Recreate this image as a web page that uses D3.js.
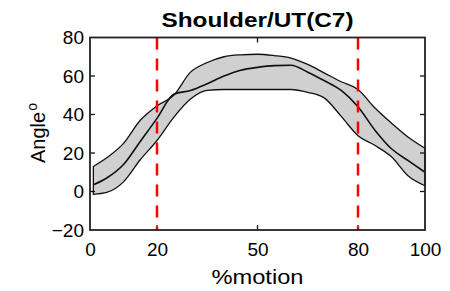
<!DOCTYPE html>
<html>
<head>
<meta charset="utf-8">
<script src="https://cdn.jsdelivr.net/npm/d3@7"></script>
<style>
  body { margin: 0; background: #fff; }
  text { font-family: Arial, "Liberation Sans", sans-serif; fill: #000; }
</style>
</head>
<body>
<svg id="chart" width="450" height="291"></svg>
<script>
// % of motion where each value was read
var pct   = [1, 5, 10, 15, 20, 25, 30, 35, 40, 45, 50, 55, 60, 65, 70, 75, 80, 85, 90, 95, 100];
var upper = [13, 17.5, 25, 37, 44.5, 50, 62, 67, 70, 71, 71.3, 70.6, 69.3, 66, 61.5, 57, 53, 43.5, 35.5, 28.2, 22.5];
var mean  = [3.5, 7, 14, 26, 38, 50.5, 52.5, 56, 60, 63, 64.5, 65.4, 65.6, 62, 57.5, 52.5, 44, 32, 22.2, 16, 10];
var lower = [-1.5, -0.5, 5, 16.5, 26.5, 38.5, 48, 52.5, 53, 53, 53, 53, 53, 51.5, 48.5, 39, 29, 24, 18, 8, 3];

var xTicks = [0, 20, 50, 80, 100];
var yTicks = [-20, 0, 20, 40, 60, 80];
var markers = [20, 80];

var svg = d3.select("#chart");
// plot box (window.top is reserved, so different names)
var plotL = 90, plotR = 425, plotT = 37.5, plotB = 230;

var x = d3.scaleLinear().domain([0, 100]).range([plotL, plotR]);
var y = d3.scaleLinear().domain([-20, 80]).range([plotB, plotT]);

var rows = pct.map(function (p, i) {
    return { p: p, hi: upper[i], mid: mean[i], lo: lower[i] };
});

// grey band
var band = d3.area()
    .x(function (d) { return x(d.p); })
    .y0(function (d) { return y(d.lo); })
    .y1(function (d) { return y(d.hi); })
    .curve(d3.curveMonotoneX);

svg.append("path")
    .datum(rows)
    .attr("d", band)
    .attr("fill", "#d0d0d0")
    .attr("stroke", "#111")
    .attr("stroke-width", 1.3);

// mean curve
var line = d3.line()
    .x(function (d) { return x(d.p); })
    .y(function (d) { return y(d.mid); })
    .curve(d3.curveMonotoneX);

svg.append("path")
    .datum(rows)
    .attr("d", line)
    .attr("fill", "none")
    .attr("stroke", "#111")
    .attr("stroke-width", 1.6);

// axes: ticks inside, labels outside
var yAxis = d3.axisLeft(y).tickValues(yTicks).tickSize(0).tickPadding(6);
var xAxis = d3.axisBottom(x).tickValues(xTicks).tickSize(0).tickPadding(8);

var gy = svg.append("g").attr("transform", "translate(" + plotL + ",0)").call(yAxis);
var gx = svg.append("g").attr("transform", "translate(0," + plotB + ")").call(xAxis);
[gx, gy].forEach(function (g) {
    g.select(".domain").remove();
    g.selectAll("text")
        .style("font-family", "Arial, 'Liberation Sans', sans-serif")
        .style("font-size", "19px")
        .attr("fill", "#000");
});
gx.selectAll("text").attr("dy", "0.95em");

// inner tick marks on all four sides
var tk = svg.append("g").attr("stroke", "#111").attr("stroke-width", 1.3);
yTicks.slice(1, -1).forEach(function (v) {
    tk.append("line").attr("x1", plotL).attr("x2", plotL + 5).attr("y1", y(v)).attr("y2", y(v));
    tk.append("line").attr("x1", plotR).attr("x2", plotR - 5).attr("y1", y(v)).attr("y2", y(v));
});
xTicks.slice(1, -1).forEach(function (v) {
    tk.append("line").attr("x1", x(v)).attr("x2", x(v)).attr("y1", plotB).attr("y2", plotB - 5);
    tk.append("line").attr("x1", x(v)).attr("x2", x(v)).attr("y1", plotT).attr("y2", plotT + 5);
});

// red dashed markers
svg.selectAll(".marker")
    .data(markers)
    .enter().append("line")
    .attr("class", "marker")
    .attr("x1", function (d) { return x(d); })
    .attr("x2", function (d) { return x(d); })
    .attr("y1", plotT)
    .attr("y2", plotB)
    .attr("stroke", "#ff0000")
    .attr("stroke-width", 2.5)
    .attr("stroke-dasharray", "12,9");

// frame
svg.append("rect")
    .attr("x", plotL).attr("y", plotT)
    .attr("width", plotR - plotL).attr("height", plotB - plotT)
    .attr("fill", "none")
    .attr("stroke", "#222")
    .attr("stroke-width", 1.8);

// titles
svg.append("text")
    .attr("x", (plotL + plotR) / 2).attr("y", 27)
    .attr("text-anchor", "middle")
    .attr("textLength", 192).attr("lengthAdjust", "spacingAndGlyphs")
    .style("font-size", "21px").style("font-weight", "bold")
    .text("Shoulder/UT(C7)");

svg.append("text")
    .attr("x", (plotL + plotR) / 2).attr("y", 284)
    .attr("text-anchor", "middle")
    .attr("textLength", 92).attr("lengthAdjust", "spacingAndGlyphs")
    .style("font-size", "20px")
    .text("%motion");

var yl = svg.append("text")
    .attr("transform", "translate(45,133) rotate(-90)")
    .attr("text-anchor", "middle")
    .style("font-size", "20px");
yl.append("tspan").text("Angle");
yl.append("tspan").attr("dy", -8).attr("dx", 1).style("font-size", "14px").text("o");
</script>
</body>
</html>
